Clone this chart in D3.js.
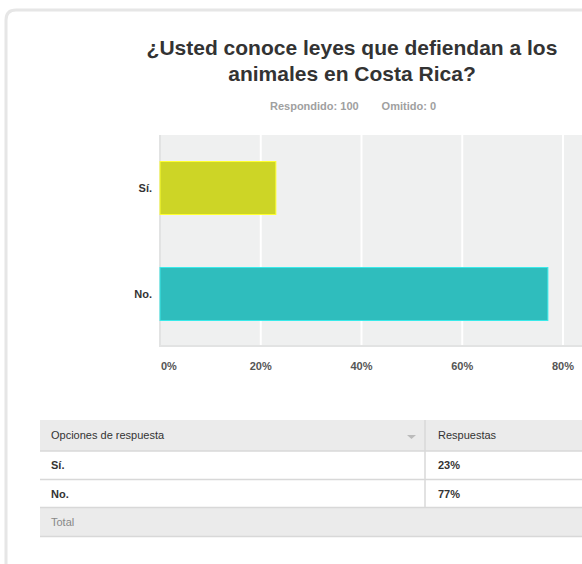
<!DOCTYPE html>
<html><head><meta charset="utf-8">
<script src="https://cdn.jsdelivr.net/npm/d3@7"></script>
<style>
html,body{margin:0;padding:0;background:#fff;}
svg{display:block;font-family:"Liberation Sans",Arial,sans-serif;}
</style></head>
<body>
<svg id="chart" width="582" height="564"></svg>
<script>
const titleLines = ["¿Usted conoce leyes que defiendan a los", "animales en Costa Rica?"];
const subtitleParts = ["Respondido: 100", "Omitido: 0"];
const categories = ["Sí.", "No."];
const values = [23, 77];
const colors = ["#cdd526", "#2fbdbd"];
const ticks = [0, 20, 40, 60, 80];
const tableHeader = ["Opciones de respuesta", "Respuestas"];
const totalLabel = "Total";

const svg = d3.select("#chart");

// frame
svg.append("path")
  .attr("d", "M6,564 V20 Q6,10 16,10 H582")
  .attr("fill", "none").attr("stroke", "#e6e6e6").attr("stroke-width", 3);

// title
svg.append("text").attr("x", 352).attr("y", 55).attr("text-anchor", "middle")
  .attr("font-size", 21).attr("font-weight", "bold").attr("fill", "#333")
  .selectAll("tspan").data(titleLines).join("tspan")
  .attr("x", 352).attr("dy", (d, i) => i ? 26 : 0).text(d => d);

svg.append("text").attr("x", 270).attr("y", 110)
  .attr("font-size", 11).attr("font-weight", "bold").attr("fill", "#a0a0a0").text(subtitleParts[0]);
svg.append("text").attr("x", 436).attr("y", 110).attr("text-anchor", "end")
  .attr("font-size", 11).attr("font-weight", "bold").attr("fill", "#a0a0a0").text(subtitleParts[1]);

// plot
const x = d3.scaleLinear().domain([0, 80]).range([160, 563]);
const y = d3.scaleBand().domain(categories).range([135, 347]).paddingInner(0.5).paddingOuter(0.25);

svg.append("rect").attr("x", 159).attr("y", 135).attr("width", 582 - 159).attr("height", 212).attr("fill", "#eff0f0");
svg.append("rect").attr("x", 159).attr("y", 135).attr("width", 2).attr("height", 212).attr("fill", "#e2e3e3");
svg.append("rect").attr("x", 159).attr("y", 345).attr("width", 582 - 159).attr("height", 2).attr("fill", "#e2e3e3");

svg.append("g").selectAll("line").data(ticks.slice(1)).join("line")
  .attr("x1", d => x(d)).attr("x2", d => x(d)).attr("y1", 135).attr("y2", 345)
  .attr("stroke", "#fff").attr("stroke-width", 2);

svg.append("g").selectAll("rect").data(values).join("rect")
  .attr("x", x(0)).attr("y", (d, i) => y(categories[i]))
  .attr("width", d => x(d) - x(0)).attr("height", y.bandwidth())
  .attr("fill", (d, i) => colors[i]).attr("stroke", (d, i) => d3.color(colors[i]).brighter(0.6)).attr("stroke-width", 1);

svg.append("g").selectAll("text").data(categories).join("text")
  .attr("x", 152).attr("y", d => y(d) + y.bandwidth() / 2 + 4).attr("text-anchor", "end")
  .attr("font-size", 11).attr("font-weight", "bold").attr("fill", "#333").text(d => d);

svg.append("g").selectAll("text").data(ticks).join("text")
  .attr("x", d => d === 0 ? x(d) + 1 : x(d)).attr("y", 370)
  .attr("text-anchor", d => d === 0 ? "start" : "middle")
  .attr("font-size", 11).attr("fill", "#555").attr("font-weight", "bold").text(d => d + "%");

// table
const tx = 40, tw = 582 - 40, colX = 425;
const rows = [
  {y: 420, h: 31, bg: "#ebebeb"},
  {y: 451, h: 29, bg: "#fff"},
  {y: 480, h: 28, bg: "#fff"},
  {y: 508, h: 28, bg: "#ebebeb"}
];
svg.append("g").selectAll("rect").data(rows).join("rect")
  .attr("x", tx).attr("y", d => d.y).attr("width", tw).attr("height", d => d.h).attr("fill", d => d.bg);
svg.append("g").selectAll("line").data([451, 479.5, 507.5, 536.5]).join("line")
  .attr("x1", tx).attr("x2", 582).attr("y1", d => d).attr("y2", d => d)
  .attr("stroke", "#d8d8d8").attr("stroke-width", 1.5);
svg.append("line").attr("x1", colX).attr("x2", colX).attr("y1", 420).attr("y2", 508)
  .attr("stroke", "#d8d8d8").attr("stroke-width", 1.5);

svg.append("text").attr("x", 51).attr("y", 439).attr("font-size", 11).attr("fill", "#333").text(tableHeader[0]);
svg.append("text").attr("x", 438).attr("y", 439).attr("font-size", 11).attr("fill", "#333").text(tableHeader[1]);
svg.append("path").attr("d", "M407,435 L416,435 L411.5,439 Z").attr("fill", "#bbb");

svg.append("g").selectAll("text").data(categories).join("text")
  .attr("x", 51).attr("y", (d, i) => rows[i + 1].y + 18).attr("font-size", 11).attr("font-weight", "bold")
  .attr("fill", "#333").text(d => d);
svg.append("g").selectAll("text").data(values).join("text")
  .attr("x", 438).attr("y", (d, i) => rows[i + 1].y + 18).attr("font-size", 11).attr("font-weight", "bold")
  .attr("fill", "#333").text(d => d + "%");
svg.append("text").attr("x", 51).attr("y", 526).attr("font-size", 11).attr("fill", "#888").text(totalLabel);
</script>
</body></html>
